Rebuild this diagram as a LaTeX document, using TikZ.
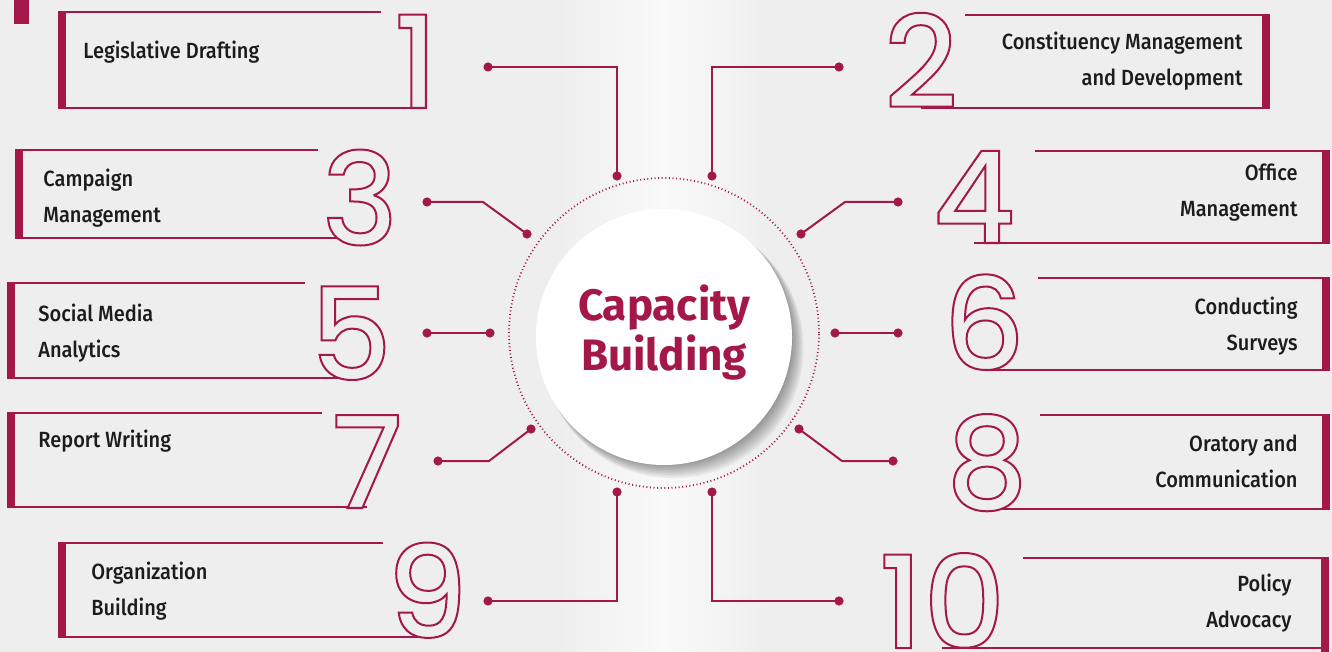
\documentclass[tikz,border=0pt]{standalone}
\usepackage{fontspec}
\setmainfont{Fira Sans}
\newfontfamily\labfont{Fira Sans Medium}[FakeStretch=0.91]
\newfontfamily\digitfont{Poppins Medium}
\definecolor{crim}{RGB}{163,24,72}
\definecolor{bgc}{RGB}{238,238,238}
\definecolor{lite}{RGB}{250,250,250}
\definecolor{ink}{RGB}{28,28,28}
\newcommand\outlined[1]{{\color{bgc}\special{pdf:literal direct 2 Tr 1.0 w 0.639 0.094 0.282 RG}#1\special{pdf:literal direct 0 Tr}}}
\tikzset{
  thin line/.style={draw=crim, line width=1pt},
  barline/.style={draw=crim, line width=4pt},
  conn/.style={draw=crim, line width=1pt},
  dot/.style={circle, fill=crim, inner sep=0pt, minimum size=4.6pt},
  num/.style={font=\digitfont\fontsize{64}{64}\selectfont, inner sep=0pt, anchor=base},
  lab/.style={font=\labfont\fontsize{11}{18}\selectfont, text=ink, inner sep=0pt},
  labL/.style={lab, anchor=west, align=left},
  labR/.style={lab, anchor=east, align=right},
}
\begin{document}
\begin{tikzpicture}[x=0.5pt, y=-0.5pt]
\useasboundingbox (0,0) rectangle (1332,652);
% background
\fill[bgc] (0,0) rectangle (1332,652);
\shade[left color=bgc, right color=lite] (560,0) rectangle (664,652);
\shade[left color=lite, right color=bgc] (664,0) rectangle (770,652);
\fill[crim] (14,0) rectangle (29,24);

% boxes (left)
\draw[thin line] (62,12) -- (381,12);  \draw[thin line] (62,108) -- (418,108);
\draw[barline] (62,11) -- (62,109);
\draw[thin line] (19,150) -- (318,150); \draw[thin line] (19,238) -- (360,238);
\draw[barline] (19,149) -- (19,239);
\draw[thin line] (11,283) -- (305,283); \draw[thin line] (11,378) -- (351,378);
\draw[barline] (11,282) -- (11,379);
\draw[thin line] (11,413) -- (322,413); \draw[thin line] (11,507) -- (367,507);
\draw[barline] (11,412) -- (11,508);
\draw[thin line] (62,543) -- (383,543); \draw[thin line] (62,637) -- (427,637);
\draw[barline] (62,542) -- (62,638);
% boxes (right)
\draw[thin line] (965,15) -- (1266,15); \draw[thin line] (921,108) -- (1266,108);
\draw[barline] (1266,14) -- (1266,109);
\draw[thin line] (1035,151) -- (1326,151); \draw[thin line] (974,243) -- (1326,243);
\draw[barline] (1326,150) -- (1326,244);
\draw[thin line] (1038,278) -- (1326,278); \draw[thin line] (984,370) -- (1326,370);
\draw[barline] (1326,277) -- (1326,371);
\draw[thin line] (1040,415) -- (1326,415); \draw[thin line] (987,509) -- (1326,509);
\draw[barline] (1326,414) -- (1326,510);
\draw[thin line] (1023,558) -- (1325,558); \draw[thin line] (942,648) -- (1325,648);
\draw[barline] (1325,557) -- (1325,652);

% numbers
\node[num] (n1) at (416,108) {\outlined{1}};
\node[num] (n2) at (921,108) {\outlined{2}};
\node[num] (n3) at (360,245) {\outlined{3}};
\node[num] (n4) at (974,243) {\outlined{4}};
\node[num] (n5) at (351,380) {\outlined{5}};
\node[num] (n6) at (984,370) {\outlined{6}};
\node[num] (n7) at (367,508) {\outlined{7}};
\node[num] (n8) at (987,509) {\outlined{8}};
\node[num] (n9) at (427,638) {\outlined{9}};
\node[num] (n10) at (942,648) {\outlined{10}};

% labels
\node[labL] (t1) at (83,52) {Legislative Drafting};
\node[labL] (t3) at (43,198) {Campaign\\Management};
\node[labL] (t5) at (38,333) {Social Media\\Analytics};
\node[labL] (t7) at (38,441) {Report Writing};
\node[labL] (t9) at (91,591) {Organization\\Building};
\node[labR] (t2) at (1243,61) {Constituency Management\\and Development};
\node[labR] (t4) at (1298,193) {Office\\Management};
\node[labR] (t6) at (1298,326) {Conducting\\Surveys};
\node[labR] (t8) at (1298,461) {Oratory and\\Communication};
\node[labR] (t10) at (1292,603) {Policy\\Advocacy};

% hub
\node[circle, draw=crim, line width=0.9pt, dash pattern=on 0.5pt off 1.3pt, minimum size=155pt, inner sep=0pt] (ring) at (664,333) {};
\foreach \i in {1,...,9}
  \fill[black, opacity=0.05] (664+\i*1.0, 337+\i*1.2) circle[radius=126+\i*0.5];
\node[circle, fill=white, minimum size=128pt, inner sep=0pt] (hub) at (664,337) {};
\node[font=\bfseries\fontsize{22}{25}\selectfont, text=crim, align=center, inner sep=0pt] (title) at (664,333) {Capacity\\Building};

% connectors
\node[dot] (d1a) at (488,67) {};  \node[dot] (d1b) at (617,176) {};
\node[dot] (d2a) at (839,67) {};  \node[dot] (d2b) at (712,176) {};
\node[dot] (d3a) at (427,202) {}; \node[dot] (d3b) at (527,234) {};
\node[dot] (d4a) at (898,202) {}; \node[dot] (d4b) at (801,234) {};
\node[dot] (d5a) at (427,333) {}; \node[dot] (d5b) at (490,333) {};
\node[dot] (d6a) at (898,333) {}; \node[dot] (d6b) at (835,333) {};
\node[dot] (d7a) at (438,461) {}; \node[dot] (d7b) at (531,429) {};
\node[dot] (d8a) at (893,461) {}; \node[dot] (d8b) at (799,429) {};
\node[dot] (d9a) at (488,601) {}; \node[dot] (d9b) at (617,492) {};
\node[dot] (d10a) at (839,601) {}; \node[dot] (d10b) at (712,492) {};
\coordinate (k3) at (483,202);
\coordinate (k4) at (845,202);
\coordinate (k7) at (489,461);
\coordinate (k8) at (842,461);
\draw[conn] (d1a.center) -| (d1b.center);
\draw[conn] (d2a.center) -| (d2b.center);
\draw[conn] (d3a.center) -- (k3) -- (d3b.center);
\draw[conn] (d4a.center) -- (k4) -- (d4b.center);
\draw[conn] (d5a.center) -- (d5b.center);
\draw[conn] (d6a.center) -- (d6b.center);
\draw[conn] (d7a.center) -- (k7) -- (d7b.center);
\draw[conn] (d8a.center) -- (k8) -- (d8b.center);
\draw[conn] (d9a.center) -| (d9b.center);
\draw[conn] (d10a.center) -| (d10b.center);
\end{tikzpicture}
\end{document}
